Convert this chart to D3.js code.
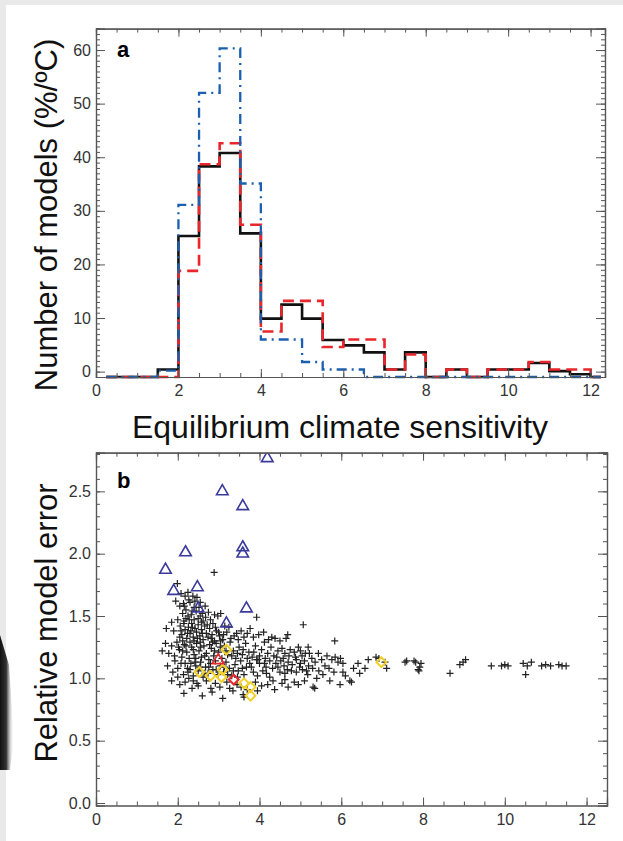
<!DOCTYPE html>
<html>
<head>
<meta charset="utf-8">
<script src="https://cdn.jsdelivr.net/npm/d3@7"></script>
<style>
body{margin:0;background:#fff;}
svg{display:block;}
.tick text{font-family:"Liberation Sans",Arial,sans-serif;font-size:16px;fill:#333;}
</style>
</head>
<body>
<svg id="chart"></svg>
<script>
// panel a: histogram bins of 0.5 degC, values in %/degC
var binCenters=[0.25,0.75,1.25,1.75,2.25,2.75,3.25,3.75,4.25,4.75,5.25,5.75,6.25,6.75,7.25,7.75,8.25,8.75,9.25,9.75,10.25,10.75,11.25,11.75,12.25];
var blackHist=[0,0,0,1.4,26.3,39.3,41.8,26.8,10.9,13.5,10.9,6.9,5.9,4.6,1.4,4.6,0,1.4,0,1.4,1.4,2.6,1.1,0.5,0];
var redHist=[0,0,0,0,19.8,39.7,43.6,28.4,8.5,14.2,14.2,5.6,7.0,7.0,1.4,4.2,0,1.4,0,1.4,1.4,2.8,1.4,1.4,0];
var blueHist=[0,0,0,1.2,32.1,53.0,61.3,36.1,7.0,7.0,2.8,1.4,1.4,0,0,0,0,0,0,0,0,0,0,0,0];
var histYTicks=[0,10,20,30,40,50,60];
var xTicks=[0,2,4,6,8,10,12];

// panel b: sensitivity vs relative error
var triangles=[[4.19,2.765],[3.09,2.50],[3.59,2.38],[3.59,2.05],[3.59,2.00],[2.19,2.01],[1.70,1.87],[1.90,1.70],[2.48,1.73],[2.50,1.56],[3.68,1.56],[3.19,1.44]];
var redTriangles=[[2.99,1.145]];
var diamonds=[[3.19,1.23],[3.10,1.07],[2.53,1.05],[2.80,1.02],[3.07,1.01],[3.62,0.96],[3.78,0.93],[3.78,0.86],[6.98,1.13]];
var redDiamonds=[[3.37,0.99]];
var pluses=[
[1.99,1.76],[2.89,1.85],[2.08,1.68],[2.18,1.66],[2.25,1.69],[2.37,1.66],[2.47,1.65],[2.14,1.60],[2.30,1.61],[2.55,1.61],
[2.67,1.58],[2.75,1.53],[2.05,1.58],[1.95,1.62],[2.40,1.57],[2.20,1.55],[2.12,1.52],[2.33,1.51],[2.45,1.54],[2.60,1.52],
[2.90,1.51],[2.98,1.50],[3.05,1.52],[3.93,1.49],[2.50,1.48],[2.28,1.47],[2.62,1.46],[2.80,1.47],
[1.72,1.40],[1.85,1.45],[1.90,1.38],[2.00,1.47],[2.06,1.42],[2.10,1.35],[2.15,1.44],[2.18,1.39],[2.22,1.32],[2.26,1.41],
[2.30,1.36],[2.34,1.44],[2.38,1.33],[2.42,1.40],[2.46,1.37],[2.50,1.43],[2.54,1.34],[2.58,1.39],[2.62,1.31],[2.66,1.42],
[2.70,1.36],[2.74,1.33],[2.78,1.40],[2.84,1.35],[2.90,1.30],[2.95,1.38],[3.02,1.34],[3.10,1.31],[3.20,1.37],[3.30,1.32],
[3.44,1.36],[3.77,1.40],[2.12,1.30],[2.40,1.30],[2.58,1.45],[2.20,1.48],[2.86,1.44],[3.15,1.42],[2.05,1.33],[2.32,1.38],
[1.62,1.22],[1.70,1.28],[1.78,1.20],[1.85,1.26],[1.92,1.18],[1.98,1.29],[2.04,1.23],[2.10,1.17],[2.16,1.27],[2.22,1.21],
[2.28,1.16],[2.34,1.25],[2.40,1.19],[2.46,1.28],[2.52,1.22],[2.58,1.17],[2.64,1.26],[2.70,1.20],[2.76,1.15],[2.82,1.24],
[2.88,1.18],[2.94,1.28],[3.00,1.21],[3.08,1.16],[3.14,1.26],[3.22,1.19],[3.28,1.29],[3.36,1.22],[3.42,1.16],[3.50,1.25],
[3.58,1.19],[3.66,1.28],[3.74,1.21],[3.82,1.17],[3.90,1.26],[3.96,1.15],[4.05,1.23],[4.12,1.29],[4.20,1.20],[4.28,1.25],
[4.35,1.18],[4.30,1.33],[4.38,1.32],[4.50,1.30],[4.65,1.32],[4.69,1.35],[4.45,1.22],[4.55,1.24],[4.62,1.20],[4.75,1.23],
[4.85,1.21],[4.95,1.25],[5.07,1.43],[5.19,1.25],[5.84,1.30],[2.30,1.29],[2.55,1.29],[2.85,1.29],[3.05,1.30],[3.48,1.31],
[1.75,1.10],[1.88,1.05],[1.93,1.14],[2.00,1.08],[2.08,1.12],[2.14,1.03],[2.24,1.08],[2.25,1.05],[2.32,1.12],[2.38,1.02],
[2.44,1.10],[2.50,1.06],[2.56,1.13],[2.62,1.01],[2.68,1.09],[2.74,1.04],[2.80,1.12],[2.86,1.07],[2.92,1.14],[2.98,1.03],
[3.04,1.10],[3.12,1.05],[3.18,1.13],[3.26,1.08],[3.32,1.02],[3.40,1.11],[3.48,1.06],[3.54,1.14],[3.62,1.03],[3.68,1.09],
[3.76,1.12],[3.85,1.05],[3.93,1.15],[4.00,1.12],[4.08,1.06],[4.16,1.09],[4.17,1.04],[4.25,1.01],[4.40,1.12],[4.52,1.14],
[4.60,1.10],[4.70,1.13],[4.80,1.11],[4.90,1.15],[5.00,1.12],[5.10,1.14],[5.20,1.10],[4.50,1.05],[4.62,1.04],[4.78,1.06],
[4.90,1.05],[5.05,1.07],[5.18,1.03],[5.30,1.08],[5.45,1.06],[5.60,1.10],[5.04,1.18],[5.12,1.20],[5.28,1.16],[5.44,1.20],
[5.77,1.15],[5.85,1.17],[5.92,1.13],[5.98,1.16],[6.04,1.12],[5.70,1.08],[6.04,1.05],[6.41,1.12],[6.45,1.04],[6.58,1.08],
[6.66,1.15],[6.85,1.17],[6.92,1.16],[7.07,1.13],[7.11,1.08],
[1.85,0.98],[2.05,0.95],[2.27,1.00],[2.47,0.96],[2.50,0.94],[2.70,0.98],[2.81,0.92],[2.84,0.89],[3.03,0.93],[3.20,0.97],
[3.27,0.92],[3.35,0.90],[3.45,0.95],[3.60,0.87],[3.62,0.85],[3.70,0.91],[3.90,0.97],[4.05,0.94],[4.33,0.98],[4.37,0.91],
[4.55,0.96],[4.70,0.93],[4.85,0.97],[4.95,0.95],[5.10,0.98],[5.31,0.93],[5.35,0.92],[5.72,0.98],[5.97,0.95],[6.21,0.98],
[6.25,0.97],[2.15,0.88],[2.60,0.86],[3.10,0.84],[2.35,0.92],
[7.56,1.13],[7.60,1.14],[7.78,1.14],[7.82,1.13],[7.92,1.09],[7.95,1.12],[7.88,1.07],[7.90,1.06],[8.66,1.04],[8.90,1.11],
[8.98,1.13],[9.04,1.15],[9.67,1.10],[9.92,1.10],[10.00,1.11],[10.08,1.10],[10.45,1.12],[10.55,1.10],[10.65,1.13],[10.51,1.03],
[10.90,1.10],[11.00,1.11],[11.12,1.10],[11.32,1.11],[11.40,1.10],[11.50,1.10],
// extra density in the core of the cloud
[2.16,1.58],[2.27,1.63],[2.42,1.62],[2.52,1.57],[2.35,1.54],[2.25,1.50],[2.55,1.50],[2.68,1.49],[2.40,1.47],[2.15,1.46],
[2.08,1.38],[2.24,1.36],[2.36,1.41],[2.48,1.32],[2.60,1.36],[2.72,1.43],[2.82,1.32],[2.92,1.41],[3.00,1.37],[3.12,1.35],
[3.25,1.41],[3.38,1.34],[3.55,1.38],[3.62,1.33],[3.70,1.36],[3.85,1.33],[3.98,1.35],[4.10,1.37],[4.22,1.31],[2.02,1.25],
[2.12,1.22],[2.20,1.26],[2.38,1.23],[2.44,1.16],[2.56,1.25],[2.66,1.18],[2.78,1.27],[2.90,1.22],[3.04,1.25],[3.18,1.22],
[3.32,1.18],[3.46,1.20],[3.60,1.23],[3.70,1.16],[3.86,1.21],[4.00,1.18],[4.14,1.16],[4.25,1.14],[4.42,1.17],[4.58,1.16],
[4.72,1.18],[4.88,1.17],[5.00,1.22],[5.22,1.20],[5.36,1.13],[5.52,1.15],[5.65,1.18],[2.18,1.12],[2.30,1.07],[2.42,1.13],
[2.54,1.09],[2.66,1.04],[2.76,1.09],[2.94,1.07],[3.14,1.09],[3.22,1.03],[3.36,1.06],[3.46,1.01],[3.58,1.08],[3.80,1.09],
[3.95,1.02],[4.12,1.12],[4.32,1.08],[4.45,1.09],[4.68,1.07],[4.98,1.09],[5.15,1.06],[5.40,1.00],[5.55,1.03],[5.82,1.05],
[6.10,1.02],[6.30,1.08],[2.00,1.01],[2.18,0.97],[2.38,0.98],[2.92,0.96],[3.55,0.93],[3.95,0.90],[4.20,0.95],[4.62,0.99]
];
var errYTicks=[0,0.5,1,1.5,2,2.5];

var width=623, height=841;
var svg=d3.select('#chart').attr('width',width).attr('height',height);

// scanned-page edges
svg.append('rect').attr('width',width).attr('height',height).attr('fill','#e9e9e9');
svg.append('rect').attr('x',6).attr('y',5).attr('width',width-6).attr('height',height-5).attr('fill','#fff');
var defs=svg.append('defs');
var grad=defs.append('linearGradient').attr('id','edge').attr('x1',0).attr('x2',1);
grad.append('stop').attr('offset',0).attr('stop-color','#111');
grad.append('stop').attr('offset',0.45).attr('stop-color','#333');
grad.append('stop').attr('offset',1).attr('stop-color','#fff').attr('stop-opacity',0);
svg.append('path').attr('d','M0,635L9,665L14,740L10,770L0,770Z').attr('fill','url(#edge)');

var fontMain='"Liberation Sans",Arial,sans-serif';

function frame(g,x,y,xMinor,yMinor,yMaj,xFmt,yFmt){
	var r=x.range(), t=y.range();
	// bottom
	g.append('g').attr('transform','translate(0,'+t[0]+')')
		.call(d3.axisBottom(x).tickValues(xMinor).tickSize(-4).tickFormat(''));
	g.append('g').attr('transform','translate(0,'+t[0]+')')
		.call(d3.axisBottom(x).tickValues(xTicks).tickSize(-8).tickPadding(8).tickFormat(xFmt));
	// top
	g.append('g').attr('transform','translate(0,'+t[1]+')')
		.call(d3.axisTop(x).tickValues(xMinor).tickSize(-4).tickFormat(''));
	g.append('g').attr('transform','translate(0,'+t[1]+')')
		.call(d3.axisTop(x).tickValues(xTicks).tickSize(-8).tickFormat(''));
	// left
	g.append('g').attr('transform','translate('+r[0]+',0)')
		.call(d3.axisLeft(y).tickValues(yMinor).tickSize(-4).tickFormat(''));
	g.append('g').attr('transform','translate('+r[0]+',0)')
		.call(d3.axisLeft(y).tickValues(yMaj).tickSize(-9).tickPadding(5).tickFormat(yFmt));
	// right
	g.append('g').attr('transform','translate('+r[1]+',0)')
		.call(d3.axisRight(y).tickValues(yMinor).tickSize(-4).tickFormat(''));
	g.append('g').attr('transform','translate('+r[1]+',0)')
		.call(d3.axisRight(y).tickValues(yMaj).tickSize(-9).tickFormat(''));
	g.selectAll('.domain').attr('stroke','#555').attr('stroke-width',1.2);
	g.selectAll('.tick line').attr('stroke','#555').attr('stroke-width',1);
}

// ---------- panel a ----------
var xA=d3.scaleLinear().domain([0,12.35]).range([96,605]);
var yA=d3.scaleLinear().domain([-1,64]).range([377,28.6]);
// histogram lines sit one unit below the labelled axis
var yAdata=d3.scaleLinear().domain([0,65]).range([377,28.6]);
var gA=svg.append('g');

var line=d3.line().x(d=>xA(d[0])).y(d=>yAdata(d[1])).curve(d3.curveStep);
var series=[
	{v:blackHist,c:'#111',w:2.6,dash:null},
	{v:redHist,c:'#e8262b',w:2.6,dash:'11,6'},
	{v:blueHist,c:'#1b5fae',w:2.3,dash:'10,5,2,5'}
];
series.forEach(function(s){
	gA.append('path')
		.datum(binCenters.map((c,i)=>[c,s.v[i]]))
		.attr('d',line)
		.attr('fill','none')
		.attr('stroke',s.c)
		.attr('stroke-width',s.w)
		.attr('stroke-dasharray',s.dash);
});
frame(gA,xA,yA,d3.range(0,12.01,0.5),d3.range(-1,64.01,1),histYTicks,d3.format('d'),d3.format('d'));

gA.append('text').attr('x',117).attr('y',57)
	.style('font-family',fontMain).style('font-weight','bold').style('font-size','22px').text('a');

svg.append('text')
	.attr('x',340).attr('y',438)
	.style('text-anchor','middle').style('font-family',fontMain).style('font-size','32px').style('fill','#111')
	.text('Equilibrium climate sensitivity');
svg.append('text')
	.attr('transform','translate(57,215) rotate(-90)')
	.style('text-anchor','middle').style('font-family',fontMain).style('font-size','31px').style('fill','#111')
	.text('Number of models (%/ºC)');

// ---------- panel b ----------
var xB=d3.scaleLinear().domain([0,12.5]).range([96,607]);
var yB=d3.scaleLinear().domain([-0.02,2.81]).range([805.5,452.7]);
var gB=svg.append('g');

gB.append('clipPath').attr('id','clipB').append('rect')
	.attr('x',96).attr('y',452.7).attr('width',511).attr('height',352.8);
var marks=gB.append('g').attr('clip-path','url(#clipB)');

marks.selectAll('path.plus').data(pluses).enter().append('path')
	.attr('class','plus')
	.attr('d','M-3.5,0H3.5M0,-3.5V3.5')
	.attr('transform',d=>'translate('+xB(d[0])+','+yB(d[1])+')')
	.attr('stroke','#222').attr('stroke-width',1.2).attr('fill','none');

var tri=d3.symbol(d3.symbolTriangle,58);
var dia=d3.symbol(d3.symbolSquare,48);
marks.selectAll('path.tri').data(triangles).enter().append('path')
	.attr('class','tri').attr('d',tri)
	.attr('transform',d=>'translate('+xB(d[0])+','+yB(d[1])+')')
	.attr('fill','none').attr('stroke','#3a3a9c').attr('stroke-width',1.6);
marks.selectAll('path.dia').data(diamonds).enter().append('path')
	.attr('class','dia').attr('d',dia)
	.attr('transform',d=>'translate('+xB(d[0])+','+yB(d[1])+') rotate(45)')
	.attr('fill','none').attr('stroke','#f3d12a').attr('stroke-width',2);
marks.selectAll('path.rdia').data(redDiamonds).enter().append('path')
	.attr('class','rdia').attr('d',dia)
	.attr('transform',d=>'translate('+xB(d[0])+','+yB(d[1])+') rotate(45)')
	.attr('fill','none').attr('stroke','#e8262b').attr('stroke-width',2);
marks.selectAll('path.rtri').data(redTriangles).enter().append('path')
	.attr('class','rtri').attr('d',tri)
	.attr('transform',d=>'translate('+xB(d[0])+','+yB(d[1])+')')
	.attr('fill','none').attr('stroke','#e8262b').attr('stroke-width',1.6);

frame(gB,xB,yB,d3.range(0,12.51,0.5),d3.range(0,2.81,0.1),errYTicks,d3.format('d'),d3.format('.1f'));

gB.append('text').attr('x',117).attr('y',488)
	.style('font-family',fontMain).style('font-weight','bold').style('font-size','22px').text('b');

svg.append('text')
	.attr('transform','translate(57,623) rotate(-90)')
	.style('text-anchor','middle').style('font-family',fontMain).style('font-size','31px').style('fill','#111')
	.text('Relative model error');
</script>
</body>
</html>
